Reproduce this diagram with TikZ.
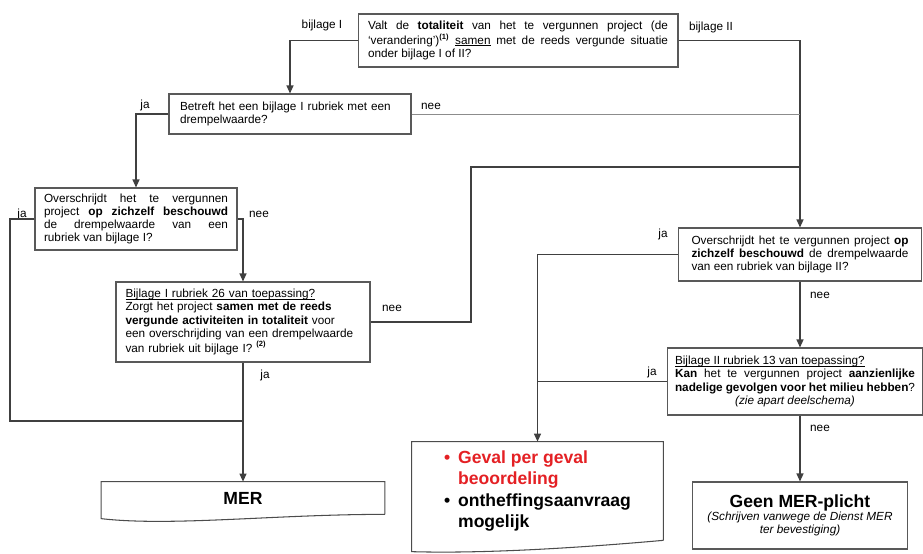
\documentclass[tikz,border=0pt]{standalone}
\usepackage{fontspec}
\setmainfont{Liberation Sans}
\usetikzlibrary{arrows.meta}
\definecolor{rood}{RGB}{228,32,36}
\newcommand{\klein}{\fontsize{6.7}{7.5}\selectfont}
\newsavebox\ondbox
\newcommand{\ond}[1]{\sbox\ondbox{#1}\rlap{\rule[-0.9pt]{\wd\ondbox}{0.35pt}}\usebox\ondbox}
\newcommand{\vn}[1]{\textsuperscript{\fontsize{4.3}{5}\selectfont\bfseries #1}}
\hyphenpenalty=10000
\exhyphenpenalty=10000

\begin{document}
\begin{tikzpicture}[x=0.02cm, y=-0.02cm,
    vraag/.style={draw=black!65, line width=0.6pt, fill=white, font=\klein, inner ysep=2pt},
    keuze/.style={font=\klein, inner sep=1pt},
    pijl/.style={draw=black!75, line width=0.7pt, -{Triangle[length=4.6pt,width=4pt]}},
    lijn/.style={draw=black!75, line width=0.7pt},
    dunlijn/.style={draw=black!45, line width=0.5pt},
    rand/.style={draw=black!70, line width=0.6pt}]
    \useasboundingbox (0,0) rectangle (923,554);

    % vragen
    \node[vraag, align=justify, text width=6cm, inner xsep=0.2cm, minimum height=1.06cm] (v1) at (518,40.5)
        {Valt de \textbf{totaliteit} van het te vergunnen project (de\linebreak
         ‘verandering’)\vn{(1)} \ond{samen} met de reeds vergunde situatie\linebreak
         onder bijlage I of II?};
    \node[vraag, align=left, text width=4.4cm, inner xsep=0.22cm, minimum height=0.8cm] (v2) at (290,114)
        {Betreft het een bijlage I rubriek met een\\ drempelwaarde?};
    \node[vraag, align=justify, text width=3.68cm, inner xsep=0.18cm, minimum height=1.24cm] (v3) at (136,219)
        {Overschrijdt het te vergunnen\linebreak
         project \textbf{op zichzelf beschouwd}\linebreak
         de drempelwaarde van een\linebreak
         rubriek van bijlage I?};
    \node[vraag, align=left, text width=4.7cm, inner xsep=0.19cm, minimum height=1.6cm] (v5) at (243,322)
        {\ond{Bijlage I rubriek 26 van toepassing?}\\
         Zorgt het project \textbf{samen met de reeds}\\
         \textbf{vergunde activiteiten in totaliteit} voor\\
         een overschrijding van een drempelwaarde\\
         van rubriek uit bijlage I? \vn{(2)}};
    \node[vraag, align=justify, text width=4.34cm, inner xsep=0.26cm, minimum height=1.06cm] (v4) at (800,254.5)
        {Overschrijdt het te vergunnen project \textbf{op}\linebreak
         \textbf{zichzelf beschouwd} de drempelwaarde\linebreak
         van een rubriek van bijlage II?};
    \node[vraag, align=justify, text width=4.8cm, inner xsep=0.16cm, minimum height=1.34cm] (v6) at (795,381.5)
        {\ond{Bijlage II rubriek 13 van toepassing?}\\
         \textbf{Kan} het te vergunnen project \textbf{aanzienlijke}\linebreak
         \textbf{nadelige gevolgen voor het milieu hebben}?\par
         {\centering\itshape (zie apart deelschema)\par}};

    % uitkomsten
    \node[font=\bfseries\fontsize{10}{12}\selectfont, minimum width=5.66cm, minimum height=0.64cm, inner sep=0pt] (mer) at (243,498) {MER};
    \draw[rand] (mer.south east) -- (mer.north east) -- (mer.north west) -- ++(0,37)
        .. controls +(70,8) and +(-110,0) .. (mer.south east);

    \node[font=\bfseries\fontsize{10}{12.2}\selectfont, align=left, minimum width=5.02cm, minimum height=1.96cm, inner sep=0pt] (geval) at (537.5,491)
        {\textcolor{rood}{\makebox[8pt][l]{\textbullet}Geval per geval}\\
         \hspace*{8pt}\textcolor{rood}{beoordeling}\\
         \makebox[8pt][l]{\textbullet}ontheffingsaanvraag\\
         \hspace*{8pt}mogelijk};
    \draw[rand] (geval.south east) -- (geval.north east) -- (geval.north west) -- ++(0,110)
        .. controls +(70,2) and +(-90,8) .. (geval.south east);

    \node[vraag, align=center, minimum width=4.3cm, minimum height=1.34cm] (geen) at (800,515.5)
        {{\bfseries\fontsize{10}{11}\selectfont Geen MER-plicht}\\
         {\itshape (Schrijven vanwege de Dienst MER}\\
         {\itshape ter bevestiging)}};

    % keuzes
    \node[keuze] (bI) at (322,25) {bijlage I};
    \node[keuze] (bII) at (711,27) {bijlage II};
    \node[keuze] (ja1) at (145,105) {ja};
    \node[keuze] (nee1) at (431,106) {nee};
    \node[keuze] (ja2) at (22,214) {ja};
    \node[keuze] (nee2) at (259,214) {nee};
    \node[keuze] (nee3) at (392,308) {nee};
    \node[keuze] (ja3) at (265,375) {ja};
    \node[keuze] (ja4) at (663,234) {ja};
    \node[keuze] (nee4) at (820,295) {nee};
    \node[keuze] (ja5) at (652,372) {ja};
    \node[keuze] (nee5) at (820,428) {nee};

    % verbindingen
    \coordinate (links) at (10,421);
    \coordinate (samen) at (243,421);
    \coordinate (omweg) at (471,167);
    \draw[pijl] (v1.west) -| (v2.north);
    \draw[pijl] (v1.east) -| (v4.north);
    \draw[pijl] (v2.west) -| (v3.north);
    \draw[dunlijn] (v2.east) -- (v2.east -| v4.north);
    \draw[pijl] (v3.east) -| (v5.north);
    \draw[lijn] (v3.west) -| (links) -- (samen);
    \draw[pijl] (v5.south) -- (mer.north);
    \draw[lijn] (v5.east) -| (omweg) -- (omweg -| v4.north);
    \draw[pijl] (v4.west) -| (geval.north);
    \draw[pijl] (v4.south) -- (v4.south |- v6.north);
    \draw[lijn] (v6.west) -- (v6.west -| geval.north);
    \draw[pijl] (v6.south -| geen.north) -- (geen.north);
\end{tikzpicture}
\end{document}
